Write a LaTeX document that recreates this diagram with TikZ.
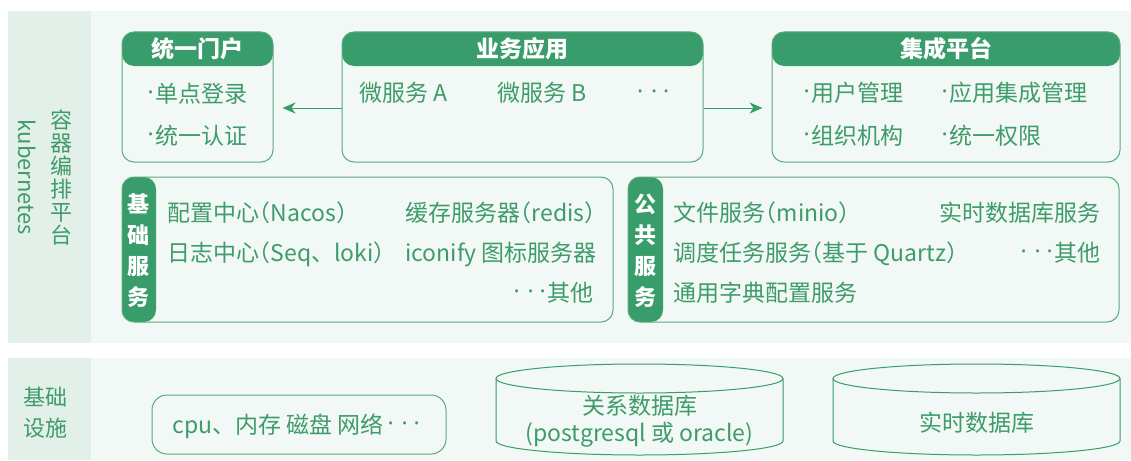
\documentclass[tikz,border=0pt]{standalone}
\usepackage{fontspec}
\setmainfont{Noto Sans CJK SC}
\newfontfamily\latinf{Noto Sans}
\usetikzlibrary{arrows.meta}
\definecolor{hdr}{RGB}{56,157,107}
\definecolor{txt}{RGB}{62,155,106}
\definecolor{bord}{RGB}{88,170,125}
\definecolor{panel}{RGB}{242,248,245}
\definecolor{strip}{RGB}{227,240,233}
\newcommand{\sdot}{\raisebox{2pt}{\latinf ·}}
\newcommand{\pd}{\makebox[9pt][c]{\sdot}}
\newcommand{\dd}{\makebox[14pt][c]{\sdot}\makebox[14pt][c]{\sdot}\makebox[10pt][c]{\sdot}}
\newcommand{\lp}{\hspace{-0.5em}（}
\begin{document}
\begin{tikzpicture}[x=1pt,y=-1pt,
  box/.style={draw=bord, line width=1pt, rounded corners=12pt, inner sep=0pt, fill=panel},
  hdrbox/.style={box, path picture={\fill[hdr] (path picture bounding box.north west) rectangle ([yshift=-34pt]path picture bounding box.north east);}},
  tabbox/.style={box, path picture={\fill[hdr] (path picture bounding box.north west) rectangle ([xshift=#1]path picture bounding box.south west);}},
  it/.style={inner sep=0pt, text=txt, font=\fontsize{23}{27}\selectfont, text height=20.2pt, text depth=2.8pt},
  htxt/.style={inner sep=0pt, text=white, font=\fontsize{23}{27}\selectfont\bfseries, text height=20.2pt, text depth=2.8pt},
  tabtxt/.style={inner sep=0pt, text=white, align=center, font=\fontsize{22}{31}\selectfont\bfseries},
  stxt/.style={inner sep=0pt, text=txt, align=center},
  arr/.style={draw=hdr, line width=1pt, -{Stealth[length=13pt,width=11pt,inset=4pt]}, shorten >=9pt},
  cyl/.style={draw=hdr, line width=1pt}
]
\useasboundingbox (0,0) rectangle (1131,460);
% panels
\fill[panel] (8,11) rectangle (1131,343);
\fill[strip] (8,11) rectangle (91,343);
\fill[panel] (8,358) rectangle (1131,460);
\fill[strip] (8,358) rectangle (91,460);

\node[stxt, font=\fontsize{22}{23}\selectfont] (k8s) at (61,177.5) {容\\器\\编\\排\\平\\台};
\node[it, font=\fontsize{22}{26}\selectfont, rotate=-90, anchor=center] (k8sEn) at (27,177.5) {kubernetes};
\node[stxt, font=\fontsize{22}{31}\selectfont] (infra) at (45,412.5) {基础\\设施};

% top boxes
\node[hdrbox, minimum width=151pt, minimum height=130pt] (portal) at (197.5,97) {};
\node[hdrbox, minimum width=361pt, minimum height=130pt] (biz) at (522.5,97) {};
\node[hdrbox, minimum width=348pt, minimum height=130pt] (plat) at (946,97) {};
\node[htxt] (portalH) at ([yshift=-17pt]portal.north) {统一门户};
\node[htxt] (bizH) at ([yshift=-17pt]biz.north) {业务应用};
\node[htxt] (platH) at ([yshift=-17pt]plat.north) {集成平台};

\node[it, anchor=west] (p1) at (146,94) {\pd 单点登录};
\node[it, anchor=west] (p2) at (146,136) {\pd 统一认证};
\node[it, anchor=west] (b1) at (359,93) {微服务 A};
\node[it, anchor=west] (b2) at (497,93) {微服务 B};
\node[it, anchor=west] (b3) at (633,93) {\dd};
\node[it, anchor=west] (s1) at (802,93) {\pd 用户管理};
\node[it, anchor=west] (s2) at (940,93) {\pd 应用集成管理};
\node[it, anchor=west] (s3) at (802,136) {\pd 组织机构};
\node[it, anchor=west] (s4) at (940,136) {\pd 统一权限};

\draw[arr] ([yshift=-11pt]biz.west) -- ([yshift=-11pt]portal.east);
\draw[arr] ([yshift=-11pt]biz.east) -- ([yshift=-11pt]plat.west);

% service boxes
\node[tabbox=34pt, minimum width=491pt, minimum height=145pt] (base) at (367.5,249.5) {};
\node[tabbox=35pt, minimum width=491pt, minimum height=145pt] (pub) at (873.5,249.5) {};
\node[tabtxt] (baseT) at ([xshift=17pt,yshift=-1.5pt]base.west) {基\\础\\服\\务};
\node[tabtxt] (pubT) at ([xshift=17.5pt,yshift=-1pt]pub.west) {公\\共\\服\\务};

\node[it, anchor=west] (f1) at (167,213) {配置中心\lp Nacos）};
\node[it, anchor=west] (f2) at (405,213) {缓存服务器\lp redis）};
\node[it, anchor=west] (f3) at (167,253) {日志中心\lp Seq、loki）};
\node[it, anchor=west] (f4) at (405,253) {iconify 图标服务器};
\node[it, anchor=east] (f5) at (594,293) {\dd 其他};

\node[it, anchor=west] (g1) at (673,213) {文件服务\lp minio）};
\node[it, anchor=east] (g2) at (1101,213) {实时数据库服务};
\node[it, anchor=west] (g3) at (673,253) {调度任务服务\lp 基于 Quartz）};
\node[it, anchor=east] (g4) at (1101,253) {\dd 其他};
\node[it, anchor=west] (g5) at (673,293) {通用字典配置服务};

% infrastructure
\node[box, rounded corners=15pt, minimum width=294pt, minimum height=59pt] (cpu) at (299,424.5) {};
\node[it] (cpuT) at ([xshift=-2pt]cpu.center) {cpu、内存 磁盘 网络\dd};

\draw[cyl] (496,378.5) -- (496,441) arc[start angle=180, end angle=360, x radius=143.5pt, y radius=14pt] -- (783,378.5);
\draw[cyl] (639.5,378.5) ellipse[x radius=143.5pt, y radius=14.5pt];
\node[stxt, font=\fontsize{23}{27}\selectfont] (rdb) at (639.5,421.5) {关系数据库\\(postgresql 或 oracle)};

\draw[cyl] (833,378.5) -- (833,441) arc[start angle=180, end angle=360, x radius=143.5pt, y radius=14pt] -- (1120,378.5);
\draw[cyl] (976.5,378.5) ellipse[x radius=143.5pt, y radius=14.5pt];
\node[it] (tdb) at (977,423) {实时数据库};
\end{tikzpicture}
\end{document}
